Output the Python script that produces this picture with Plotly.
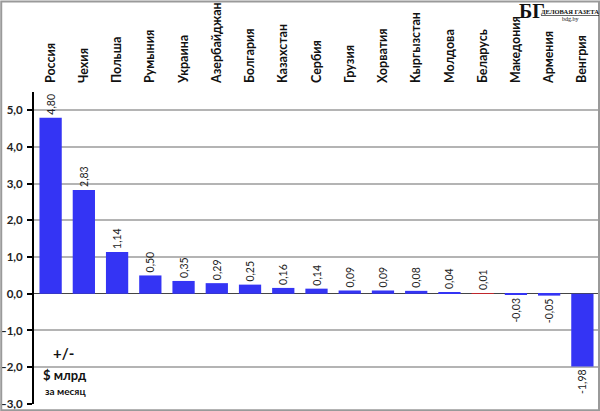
import plotly.graph_objects as go

countries = ["Россия", "Чехия", "Польша", "Румыния", "Украина", "Азербайджан",
             "Болгария", "Казахстан", "Сербия", "Грузия", "Хорватия", "Кыргызстан",
             "Молдова", "Беларусь", "Македония", "Армения", "Венгрия"]
values = [4.80, 2.83, 1.14, 0.50, 0.35, 0.29, 0.25, 0.16, 0.14, 0.09, 0.09, 0.08,
          0.04, 0.01, -0.03, -0.05, -1.98]
highlight = "Беларусь"

BLUE = "#3434f4"
RED = "#c0262c"
colors = [RED if c == highlight else BLUE for c in countries]
FONT = "Lato"

fig = go.Figure(go.Bar(
    x=countries, y=values,
    marker=dict(color=colors, line=dict(width=0)),
    texttemplate="%{y:.2f}", textposition="outside", textangle=-90,
    constraintext="none", cliponaxis=False,
    textfont=dict(family=FONT, size=10.5, color="#222222"),
))

def note(text, x, y, size, family=FONT, bold=True):
    return dict(text=text, xref="paper", yref="paper", x=x, y=y,
                xanchor="center", yanchor="middle", showarrow=False,
                font=dict(family=family, size=size, color="#111",
                          weight="bold" if bold else "normal"))

fig.update_layout(
    width=600, height=411,
    margin=dict(l=34, r=1, t=92, b=7),
    paper_bgcolor="white", plot_bgcolor="white",
    separators=", ",
    bargap=0.33,
    showlegend=False,
    font=dict(family=FONT),
    xaxis=dict(side="top", tickangle=-90, showgrid=False, showline=False,
               ticks="", ticklabelstandoff=8, automargin=False,
               tickfont=dict(family=FONT, size=12.5, color="#111111", weight="bold")),
    yaxis=dict(range=[-3.004, 5.5], tickmode="linear", tick0=-3, dtick=1, tickformat=".1f",
               ticklabeloverflow="allow", ticklabelstandoff=2, automargin=False,
               showgrid=True, gridcolor="#b4b4b4", gridwidth=1.5,
               zeroline=True, zerolinecolor="#444444", zerolinewidth=1,
               showline=True, linecolor="#000000", linewidth=2,
               ticks="outside", ticklen=5, tickwidth=2, tickcolor="#000000",
               tickfont=dict(family=FONT, size=11.5, color="#222222", weight="bold")),
    shapes=[dict(type="rect", xref="paper", yref="paper",
                 x0=-0.058, x1=1.0, y0=-0.02, y1=1.29,
                 line=dict(color="#9a9a9a", width=2), fillcolor="rgba(0,0,0,0)")],
    annotations=[
        note("+/-", 0.052, 0.162, 15),
        note("$ млрд", 0.054, 0.0915, 13),
        note("за месяц", 0.055, 0.043, 10),
        note("БГ", 0.881, 1.26, 20, family="Liberation Serif"),
        note("<u>ДЕЛОВАЯ ГАЗЕТА</u>", 0.949, 1.257, 6.5, family="Liberation Serif"),
        note("bdg.by", 0.949, 1.234, 6, family="Liberation Serif", bold=False),
    ],
)

fig.write_html("out.html", config={"displayModeBar": False},
               post_script="document.body.style.margin='0';document.body.style.overflow='hidden';")
